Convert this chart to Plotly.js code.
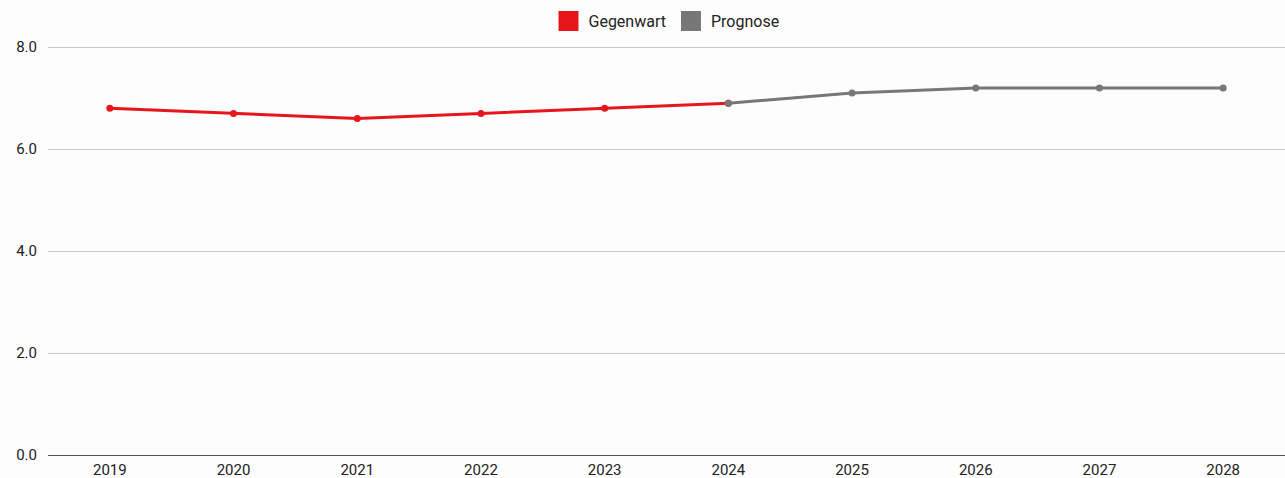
<!DOCTYPE html>
<html><head><meta charset="utf-8">
<script src="https://cdn.plot.ly/plotly-3.0.1.min.js"></script>
<style>html,body{margin:0;padding:0;background:#fdfdfd;}</style>
</head><body>
<div id="chart" style="width:1285px;height:478px;"></div>
<script>
const years = ['2019','2020','2021','2022','2023','2024','2025','2026','2027','2028'];
const gegenwartYears = ['2019','2020','2021','2022','2023','2024'];
const gegenwartValues = [6.8, 6.7, 6.6, 6.7, 6.8, 6.9];
const prognoseYears = ['2024','2025','2026','2027','2028'];
const prognoseValues = [6.9, 7.1, 7.2, 7.2, 7.2];
const yTicks = [0, 2, 4, 6, 8];
const yTickLabels = ['0.0', '2.0', '4.0', '6.0', '8.0'];

const red = '#e8161b', gray = '#777777';
const font = {family: 'Roboto, "Noto Sans", sans-serif', size: 15, color: '#222'};

const traces = [
  {x: gegenwartYears, y: gegenwartValues, mode: 'lines+markers', name: 'Gegenwart',
   line: {color: red, width: 3}, marker: {color: red, size: 7}, showlegend: false},
  {x: prognoseYears, y: prognoseValues, mode: 'lines+markers', name: 'Prognose',
   line: {color: gray, width: 3}, marker: {color: gray, size: 7}, showlegend: false},
  {x: [null], y: [null], mode: 'markers', name: 'Gegenwart',
   marker: {color: red, symbol: 'square', size: 16, line: {color: red, width: 4}}},
  {x: [null], y: [null], mode: 'markers', name: 'Prognose',
   marker: {color: gray, symbol: 'square', size: 16, line: {color: gray, width: 4}}}
];

const layout = {
  width: 1285, height: 478,
  paper_bgcolor: '#fdfdfd', plot_bgcolor: '#fdfdfd',
  font: font,
  margin: {l: 48, r: 0, t: 42, b: 23, autoexpand: false},
  showlegend: true,
  legend: {orientation: 'h', x: 0.5, xanchor: 'center', xref: 'paper',
           y: 0.956, yanchor: 'middle', yref: 'container',
           font: {family: font.family, size: 16, color: '#222'}, bgcolor: 'rgba(0,0,0,0)'},
  xaxis: {type: 'category', categoryorder: 'array', categoryarray: years, range: [-0.5, 9.5],
          showgrid: false, showline: false, zeroline: false, ticks: '', ticklabelstandoff: 4,
          automargin: false, fixedrange: true},
  yaxis: {range: [0, 8.1], tickvals: yTicks, ticktext: yTickLabels, showgrid: true,
          gridcolor: '#c8c8c8', gridwidth: 1, zeroline: true, zerolinecolor: '#555', zerolinewidth: 1,
          showline: false, ticks: '', ticklabelstandoff: 10, automargin: false, fixedrange: true}
};

Plotly.newPlot('chart', traces, layout, {displayModeBar: false, staticPlot: true});
</script>
</body></html>
